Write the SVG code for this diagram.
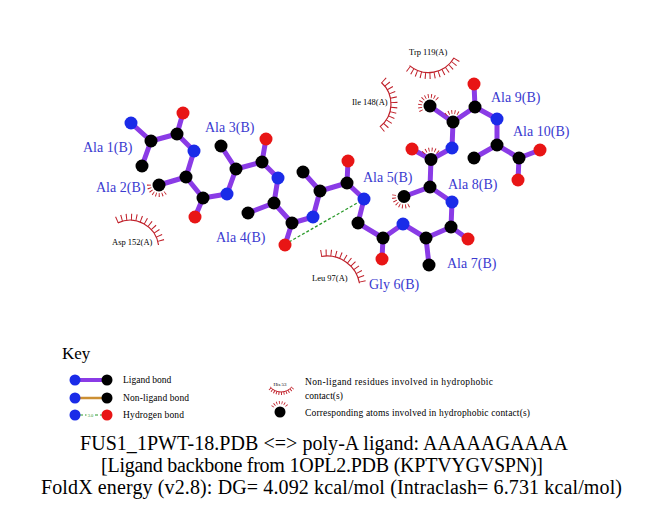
<svg xmlns="http://www.w3.org/2000/svg" width="651" height="511" viewBox="0 0 651 511">
<style>
.bond{stroke:#8a3be6;stroke-width:5;stroke-linecap:round}
.C{fill:#000}
.N{fill:#1a2be8}
.O{fill:#e81515}
.lab{font-family:"Liberation Serif",serif;font-size:14px;fill:#3a3ad0}
.res{font-family:"Liberation Serif",serif;font-size:8.5px;fill:#000}
.key{font-family:"Liberation Serif",serif;font-size:9.5px;fill:#000}
.ttl{font-family:"Liberation Serif",serif;font-size:20px;fill:#000}
.line{fill:none;stroke:#c0202a;stroke-width:1.2}
.spk{fill:none;stroke:#c0202a;stroke-width:6.5;stroke-dasharray:1 4}
.tick{fill:none;stroke:#c0202a;stroke-width:4;stroke-dasharray:0.9 2.2}
.hb{stroke:#2a9a2a;stroke-width:1.3;stroke-dasharray:3 2}
</style>
<rect width="651" height="511" fill="#fff"/>
<g id="connectors">
<line class="bond" x1="131" y1="123" x2="151" y2="141"/>
<line class="bond" x1="151" y1="141" x2="142" y2="166"/>
<line class="bond" x1="151" y1="141" x2="177" y2="134"/>
<line class="bond" x1="177" y1="134" x2="183" y2="113"/>
<line class="bond" x1="177" y1="134" x2="194" y2="151"/>
<line class="bond" x1="194" y1="151" x2="186" y2="177"/>
<line class="bond" x1="186" y1="177" x2="159" y2="185"/>
<line class="bond" x1="186" y1="177" x2="203" y2="198"/>
<line class="bond" x1="203" y1="198" x2="195" y2="217"/>
<line class="bond" x1="203" y1="198" x2="227" y2="194"/>
<line class="bond" x1="227" y1="194" x2="236" y2="169"/>
<line class="bond" x1="236" y1="169" x2="221" y2="146"/>
<line class="bond" x1="236" y1="169" x2="262" y2="162"/>
<line class="bond" x1="262" y1="162" x2="266" y2="139"/>
<line class="bond" x1="262" y1="162" x2="278" y2="178"/>
<line class="bond" x1="278" y1="178" x2="274" y2="203"/>
<line class="bond" x1="274" y1="203" x2="248" y2="213"/>
<line class="bond" x1="274" y1="203" x2="292" y2="223"/>
<line class="bond" x1="292" y1="223" x2="285" y2="245"/>
<line class="bond" x1="292" y1="223" x2="313" y2="217"/>
<line class="bond" x1="313" y1="217" x2="320" y2="191"/>
<line class="bond" x1="320" y1="191" x2="303" y2="172"/>
<line class="bond" x1="320" y1="191" x2="347" y2="183"/>
<line class="bond" x1="347" y1="183" x2="348" y2="161"/>
<line class="bond" x1="347" y1="183" x2="364" y2="199"/>
<line class="bond" x1="364" y1="199" x2="358" y2="223"/>
<line class="bond" x1="358" y1="223" x2="383" y2="238"/>
<line class="bond" x1="383" y1="238" x2="382" y2="259"/>
<line class="bond" x1="383" y1="238" x2="403" y2="224"/>
<line class="bond" x1="403" y1="224" x2="426" y2="238"/>
<line class="bond" x1="426" y1="238" x2="429" y2="265"/>
<line class="bond" x1="426" y1="238" x2="451" y2="227"/>
<line class="bond" x1="451" y1="227" x2="468" y2="239"/>
<line class="bond" x1="451" y1="227" x2="452" y2="202"/>
<line class="bond" x1="452" y1="202" x2="430" y2="187"/>
<line class="bond" x1="430" y1="187" x2="404" y2="196.5"/>
<line class="bond" x1="430" y1="187" x2="431" y2="159.5"/>
<line class="bond" x1="431" y1="159.5" x2="412" y2="149"/>
<line class="bond" x1="431" y1="159.5" x2="452" y2="148"/>
<line class="bond" x1="452" y1="148" x2="453" y2="122"/>
<line class="bond" x1="453" y1="122" x2="430" y2="106"/>
<line class="bond" x1="453" y1="122" x2="475" y2="107"/>
<line class="bond" x1="475" y1="107" x2="474" y2="84"/>
<line class="bond" x1="475" y1="107" x2="497" y2="119"/>
<line class="bond" x1="497" y1="119" x2="497" y2="145"/>
<line class="bond" x1="497" y1="145" x2="474" y2="158"/>
<line class="bond" x1="497" y1="145" x2="519" y2="158"/>
<line class="bond" x1="519" y1="158" x2="540" y2="150"/>
<line class="bond" x1="519" y1="158" x2="518" y2="180"/>
<line class="hb" x1="289" y1="242" x2="359" y2="202"/>
</g>
<g id="ala1">
<circle class="N" cx="131" cy="123" r="6.5"/><circle class="C" cx="151" cy="141" r="6.5"/><circle class="C" cx="142" cy="166" r="6.5"/><circle class="C" cx="177" cy="134" r="6.5"/><circle class="O" cx="183" cy="113" r="6.5"/>
<text class="lab" x="83" y="152">Ala 1(B)</text>
</g>
<g id="ala2">
<path class="tick" d="M165.43,192.66 A10,10 0 0 1 149.15,183.26"/>
<circle class="N" cx="194" cy="151" r="6.5"/><circle class="C" cx="186" cy="177" r="6.5"/><circle class="C" cx="159" cy="185" r="6.5"/><circle class="C" cx="203" cy="198" r="6.5"/><circle class="O" cx="195" cy="217" r="6.5"/>
<text class="lab" x="96" y="192">Ala 2(B)</text>
</g>
<g id="ala3">
<circle class="N" cx="227" cy="194" r="6.5"/><circle class="C" cx="236" cy="169" r="6.5"/><circle class="C" cx="221" cy="146" r="6.5"/><circle class="C" cx="262" cy="162" r="6.5"/><circle class="O" cx="266" cy="139" r="6.5"/>
<text class="lab" x="205" y="132">Ala 3(B)</text>
</g>
<g id="ala4">
<circle class="N" cx="278" cy="178" r="6.5"/><circle class="C" cx="274" cy="203" r="6.5"/><circle class="C" cx="248" cy="213" r="6.5"/><circle class="C" cx="292" cy="223" r="6.5"/><circle class="O" cx="285" cy="245" r="6.5"/>
<text class="lab" x="216" y="242">Ala 4(B)</text>
</g>
<g id="ala5">
<circle class="N" cx="313" cy="217" r="6.5"/><circle class="C" cx="320" cy="191" r="6.5"/><circle class="C" cx="303" cy="172" r="6.5"/><circle class="C" cx="347" cy="183" r="6.5"/><circle class="O" cx="348" cy="161" r="6.5"/>
<text class="lab" x="363" y="182">Ala 5(B)</text>
</g>
<g id="gly6">
<circle class="N" cx="364" cy="199" r="6.5"/><circle class="C" cx="358" cy="223" r="6.5"/><circle class="C" cx="383" cy="238" r="6.5"/><circle class="O" cx="382" cy="259" r="6.5"/>
<text class="lab" x="369" y="289">Gly 6(B)</text>
</g>
<g id="ala7">
<circle class="N" cx="403" cy="224" r="6.5"/><circle class="C" cx="426" cy="238" r="6.5"/><circle class="C" cx="429" cy="265" r="6.5"/><circle class="C" cx="451" cy="227" r="6.5"/><circle class="O" cx="468" cy="239" r="6.5"/>
<text class="lab" x="447" y="268">Ala 7(B)</text>
</g>
<g id="ala8">
<path class="tick" d="M409,205.16 A10,10 0 0 1 394.15,194.76"/>
<path class="tick" d="M423.34,153.07 A10,10 0 0 1 438.66,153.07"/>
<circle class="N" cx="452" cy="202" r="6.5"/><circle class="C" cx="430" cy="187" r="6.5"/><circle class="C" cx="404" cy="196.5" r="6.5"/><circle class="C" cx="431" cy="159.5" r="6.5"/><circle class="O" cx="412" cy="149" r="6.5"/>
<text class="lab" x="448" y="189">Ala 8(B)</text>
</g>
<g id="ala9">
<path class="tick" d="M421.34,111 A10,10 0 0 1 437.66,99.57"/>
<path class="tick" d="M445.93,114.93 A10,10 0 0 1 460.07,114.93"/>
<circle class="N" cx="452" cy="148" r="6.5"/><circle class="C" cx="453" cy="122" r="6.5"/><circle class="C" cx="430" cy="106" r="6.5"/><circle class="C" cx="475" cy="107" r="6.5"/><circle class="O" cx="474" cy="84" r="6.5"/>
<text class="lab" x="491" y="102">Ala 9(B)</text>
</g>
<g id="ala10">
<circle class="N" cx="497" cy="119" r="6.5"/><circle class="C" cx="497" cy="145" r="6.5"/><circle class="C" cx="474" cy="158" r="6.5"/><circle class="C" cx="519" cy="158" r="6.5"/><circle class="O" cx="540" cy="150" r="6.5"/><circle class="O" cx="518" cy="180" r="6.5"/>
<text class="lab" x="513" y="136">Ala 10(B)</text>
</g>
<g id="trp119">
<path class="line" d="M454.05,57.75 A29.5,29.5 0 0 1 409.54,65.6"/>
<path class="spk" style="stroke-dasharray:1 3.6" d="M456.86,59.38 A32.75,32.75 0 0 1 407.45,68.09"/>
<text class="res" x="409" y="55">Trp 119(A)</text>
</g>
<g id="ile148">
<path class="line" d="M381.4,82.45 A29,29 0 0 1 379.86,126.85"/>
<path class="spk" d="M383.58,80.03 A32.25,32.25 0 0 1 381.86,129.41"/>
<text class="res" x="352" y="105">Ile 148(A)</text>
</g>
<g id="asp152">
<path class="line" d="M117.83,222.9 A28.8,28.8 0 0 1 158.52,244.99"/>
<path class="spk" d="M116.46,219.95 A32.05,32.05 0 0 1 161.74,244.54"/>
<text class="res" x="112" y="245">Asp 152(A)</text>
</g>
<g id="leu97">
<path class="line" d="M321.27,256.5 A33,33 0 0 1 359.5,283.27"/>
<path class="spk" d="M320.71,253.3 A36.25,36.25 0 0 1 362.7,282.71"/>
<text class="res" x="312" y="281">Leu 97(A)</text>
</g>
<g id="key">
<text x="62" y="359" style="font-family:'Liberation Serif',serif;font-size:17px">Key</text>
<line x1="75" y1="380" x2="107" y2="380" stroke="#8a3be6" stroke-width="4"/>
<circle class="N" cx="75" cy="380" r="5.5"/><circle class="C" cx="107" cy="380" r="5.5"/>
<text class="key" x="123" y="383">Ligand bond</text>
<line x1="75" y1="398" x2="107" y2="398" stroke="#cc8f33" stroke-width="2.5"/>
<circle class="N" cx="75" cy="398" r="5.5"/><circle class="C" cx="107" cy="398" r="5.5"/>
<text class="key" x="123" y="401" textLength="66">Non-ligand bond</text>
<line class="hb" x1="80" y1="415" x2="86.5" y2="415" style="stroke-width:1"/>
<line class="hb" x1="95" y1="415" x2="102" y2="415" style="stroke-width:1"/>
<text x="90.5" y="416.5" text-anchor="middle" style="font-family:'Liberation Serif',serif;font-size:4.5px;fill:#2a9a2a">3.0</text>
<circle class="N" cx="75" cy="415" r="5.5"/><circle class="O" cx="107" cy="415" r="5.5"/>
<text class="key" x="123" y="418" textLength="61">Hydrogen bond</text>
<text x="280" y="386" text-anchor="middle" style="font-family:'Liberation Serif',serif;font-size:5px">His 53</text>
<path class="line" style="stroke-width:1" d="M291.72,387 A14,14 0 0 1 270.28,387"/>
<path class="spk" style="stroke-width:3;stroke-dasharray:0.9 1.6" d="M292.87,387.96 A15.5,15.5 0 0 1 269.13,387.96"/>
<text class="key" x="305" y="385" textLength="188">Non-ligand residues involved in hydrophobic</text>
<text class="key" x="305" y="399" textLength="38">contact(s)</text>
<path class="tick" style="stroke-width:3;stroke-dasharray:0.8 1.8" d="M272.64,406.75 A8.5,8.5 0 0 1 287.36,406.75"/>
<circle class="C" cx="280" cy="412" r="5.5"/>
<text class="key" x="305" y="416" textLength="225">Corresponding atoms involved in hydrophobic contact(s)</text>
</g>
<g id="title">
<text class="ttl" x="80" y="450" textLength="488">FUS1_1PWT-18.PDB &lt;=&gt; poly-A ligand: AAAAAGAAAA</text>
<text class="ttl" x="101" y="472" textLength="442">[Ligand backbone from 1OPL2.PDB (KPTVYGVSPN)]</text>
<text class="ttl" x="41" y="494" textLength="581">FoldX energy (v2.8): DG= 4.092 kcal/mol (Intraclash= 6.731 kcal/mol)</text>
</g>
</svg>
